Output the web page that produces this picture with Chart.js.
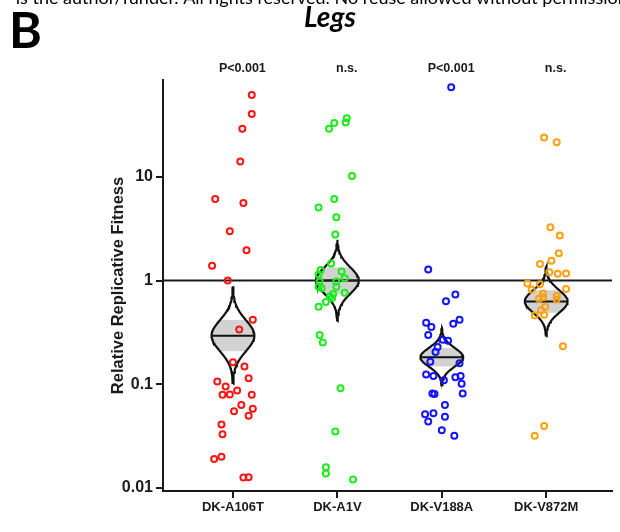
<!DOCTYPE html>
<html>
<head>
<meta charset="utf-8">
<script src="https://cdn.jsdelivr.net/npm/chart.js@4.4.1/dist/chart.umd.min.js"></script>
<style>
  html, body { margin: 0; padding: 0; background: #fff; }
</style>
</head>
<body>
<canvas id="legs-fitness" width="620" height="532"></canvas>
<script>
// categories and labels
var mutants = ['DK-A106T', 'DK-A1V', 'DK-V188A', 'DK-V872M'];
var pLabels = ['P<0.001', 'n.s.', 'P<0.001', 'n.s.'];
var yTickValues = [0.01, 0.1, 1, 10];
var yTickLabels = ['0.01', '0.1', '1', '10'];
var groupColors = ['#ff1414', '#1eeb1e', '#1414ff', '#ffa010'];

// relative fitness of each replicate, with its horizontal jitter from the category centre
var a106tFitness = [61.4, 40.3, 29.1, 14.0, 6.1, 5.6, 2.98, 1.96, 1.39, 1.0, 0.419, 0.338, 0.163, 0.148, 0.114, 0.106, 0.095, 0.079, 0.0796, 0.087, 0.079, 0.063, 0.055, 0.058, 0.0496, 0.041, 0.033, 0.019, 0.020, 0.0126, 0.0127];
var a106tJitter = [0.18, 0.18, 0.09, 0.07, -0.17, 0.10, -0.03, 0.13, -0.20, -0.05, 0.19, 0.06, 0.00, 0.11, 0.15, -0.15, -0.07, -0.10, -0.03, 0.04, 0.18, 0.08, 0.01, 0.19, 0.15, -0.11, -0.10, -0.18, -0.11, 0.10, 0.15];

var a1vFitness = [36.7, 33.3, 33.0, 29.1, 10.2, 6.1, 5.07, 4.07, 2.77, 1.46, 1.26, 1.22, 1.14, 1.05, 0.98, 0.98, 0.87, 0.87, 0.84, 0.76, 0.74, 0.70, 0.68, 0.62, 0.56, 0.298, 0.252, 0.0916, 0.035, 0.0158, 0.0138, 0.0121];
var a1vJitter = [0.09, 0.08, -0.03, -0.08, 0.14, -0.03, -0.18, -0.01, -0.02, -0.06, -0.16, 0.04, -0.18, 0.07, -0.01, -0.17, -0.18, -0.01, -0.15, 0.07, -0.04, -0.07, -0.05, -0.11, -0.18, -0.17, -0.14, 0.03, -0.02, -0.11, -0.11, 0.15];

var v188aFitness = [72.8, 1.28, 0.733, 0.632, 0.392, 0.356, 0.419, 0.383, 0.298, 0.269, 0.263, 0.229, 0.205, 0.165, 0.159, 0.124, 0.120, 0.109, 0.117, 0.120, 0.101, 0.0814, 0.0807, 0.0814, 0.063, 0.0515, 0.0526, 0.0485, 0.0438, 0.0361, 0.0318];
var v188aJitter = [0.09, -0.13, 0.13, 0.04, -0.15, -0.10, 0.17, 0.11, -0.13, 0.01, 0.06, -0.04, -0.06, -0.11, 0.17, -0.15, -0.08, 0.02, 0.13, 0.18, 0.19, -0.09, -0.07, 0.20, 0.03, -0.16, -0.08, 0.03, -0.13, 0.00, 0.12];

var v872mFitness = [23.9, 21.5, 3.26, 2.71, 1.83, 1.44, 1.55, 1.20, 1.16, 1.17, 0.935, 0.922, 0.82, 0.83, 0.75, 0.71, 0.69, 0.667, 0.656, 0.558, 0.518, 0.461, 0.468, 0.232, 0.0395, 0.0318];
var v872mJitter = [-0.02, 0.10, 0.04, 0.13, 0.12, -0.06, 0.05, 0.03, 0.11, 0.19, -0.18, -0.06, -0.14, 0.19, -0.03, 0.10, -0.03, -0.07, 0.10, -0.01, -0.05, -0.11, -0.02, 0.16, -0.02, -0.11];

// bean for each group: centre (geometric mean) and spread of the mean in log10 units
var violinMeans = [0.294, 1.0, 0.182, 0.628];
var violinSpread = [0.150, 0.127, 0.090, 0.109];
var referenceLevel = 1;

var fitnessGroups = [a106tFitness, a1vFitness, v188aFitness, v872mFitness];
var jitterGroups = [a106tJitter, a1vJitter, v188aJitter, v872mJitter];

var X_MIN = 0.33, X_MAX = 4.63;
var BEAN_HALF_WIDTH = 0.205;
var BEAN_Z = 3.1;

// outline of a bean between -zMax..zMax standard errors, right side up then left side down
function beanPath(i, zMax) {
  var c = i + 1, m = Math.log10(violinMeans[i]), s = violinSpread[i];
  var right = [], left = [], n = 60;
  for (var k = 0; k <= n; k++) {
    var z = -zMax + 2 * zMax * k / n;
    var w = BEAN_HALF_WIDTH * Math.exp(-z * z / 2);
    var y = Math.pow(10, m + z * s);
    right.push({x: c + w, y: y});
    left.unshift({x: c - w, y: y});
  }
  return right.concat(left);
}

var datasets = [];

fitnessGroups.forEach(function (vals, i) {
  datasets.push({
    type: 'scatter',
    label: mutants[i],
    data: vals.map(function (v, j) { return {x: i + 1 + jitterGroups[i][j], y: v}; }),
    pointRadius: 3,
    pointBorderWidth: 2,
    pointBorderColor: groupColors[i],
    pointBackgroundColor: 'rgba(255,255,255,0)',
    order: 1
  });
});

datasets.push({
  type: 'line',
  label: 'reference',
  data: [{x: X_MIN, y: referenceLevel}, {x: X_MAX, y: referenceLevel}],
  borderColor: '#1a1a1a',
  borderWidth: 2,
  pointRadius: 0,
  fill: false,
  order: 2
});

violinMeans.forEach(function (mean, i) {
  datasets.push({
    type: 'line',
    label: 'mean ' + mutants[i],
    data: [{x: i + 1 - BEAN_HALF_WIDTH, y: mean}, {x: i + 1 + BEAN_HALF_WIDTH, y: mean}],
    borderColor: '#111',
    borderWidth: 2,
    pointRadius: 0,
    fill: false,
    order: 3
  });
  datasets.push({
    type: 'line',
    label: 'bean ' + mutants[i],
    data: beanPath(i, BEAN_Z),
    borderColor: '#111',
    borderWidth: 2.2,
    pointRadius: 0,
    tension: 0,
    fill: false,
    order: 4
  });
  datasets.push({
    type: 'line',
    label: 'band ' + mutants[i],
    data: beanPath(i, 1),
    borderWidth: 0,
    borderColor: 'rgba(0,0,0,0)',
    backgroundColor: '#d2d2d2',
    pointRadius: 0,
    tension: 0,
    fill: 'shape',
    order: 5
  });
});

// panel letter, title, copyright strip and significance labels
var panelText = {
  id: 'panelText',
  afterDraw: function (chart) {
    var ctx = chart.ctx, xs = chart.scales.x;
    ctx.save();
    ctx.fillStyle = '#000';
    ctx.textBaseline = 'alphabetic';
    ctx.textAlign = 'right';
    ctx.font = '18px Lato';
    ctx.fillText('is the author/funder. All rights reserved. No reuse allowed without permission.', 632, 4);
    ctx.textAlign = 'left';
    ctx.font = 'bold 50px Lato';
    ctx.fillText('B', 9, 48);
    ctx.textAlign = 'center';
    ctx.font = 'italic bold 28px Lato';
    ctx.fillText('Legs', 330, 27);
    ctx.font = 'bold 12.5px "Liberation Sans"';
    ctx.textBaseline = 'middle';
    ctx.fillStyle = '#1a1a1a';
    pLabels.forEach(function (t, i) {
      ctx.fillText(t, xs.getPixelForValue(i + 1.09), 69);
    });
    ctx.restore();
  }
};

new Chart(document.getElementById('legs-fitness'), {
  type: 'scatter',
  data: {datasets: datasets},
  options: {
    responsive: false,
    animation: false,
    layout: {padding: {top: 80, right: 8, left: 0, bottom: 0}},
    plugins: {legend: {display: false}, tooltip: {enabled: false}},
    scales: {
      x: {
        type: 'linear',
        min: X_MIN,
        max: X_MAX,
        afterFit: function (scale) { scale.height = 41; },
        afterBuildTicks: function (scale) {
          scale.ticks = mutants.map(function (m, i) { return {value: i + 1}; });
        },
        ticks: {
          autoSkip: false,
          maxRotation: 0,
          padding: 2,
          color: '#1a1a1a',
          font: {family: 'Liberation Sans', size: 13, weight: 'bold'},
          callback: function (v, i) { return mutants[i]; }
        },
        grid: {display: true, drawOnChartArea: false, drawTicks: true, tickLength: 7, color: '#1a1a1a', lineWidth: 2},
        border: {display: true, color: '#1a1a1a', width: 2}
      },
      y: {
        type: 'logarithmic',
        min: 0.00935,
        max: 85.7,
        afterFit: function (scale) { scale.width = 163; },
        afterBuildTicks: function (scale) {
          scale.ticks = yTickValues.map(function (v) { return {value: v}; });
        },
        ticks: {
          autoSkip: false,
          padding: 3,
          color: '#1a1a1a',
          font: {family: 'Liberation Sans', size: 16, weight: 'bold'},
          callback: function (v, i) { return yTickLabels[i]; }
        },
        title: {
          display: true,
          text: 'Relative Replicative Fitness',
          color: '#1a1a1a',
          font: {family: 'Liberation Sans', size: 16.5, weight: 'bold'},
          padding: {top: 109, bottom: 0}
        },
        grid: {display: true, drawOnChartArea: false, drawTicks: true, tickLength: 7, color: '#1a1a1a', lineWidth: 2},
        border: {display: true, color: '#1a1a1a', width: 2}
      }
    }
  },
  plugins: [panelText]
});
</script>
</body>
</html>
